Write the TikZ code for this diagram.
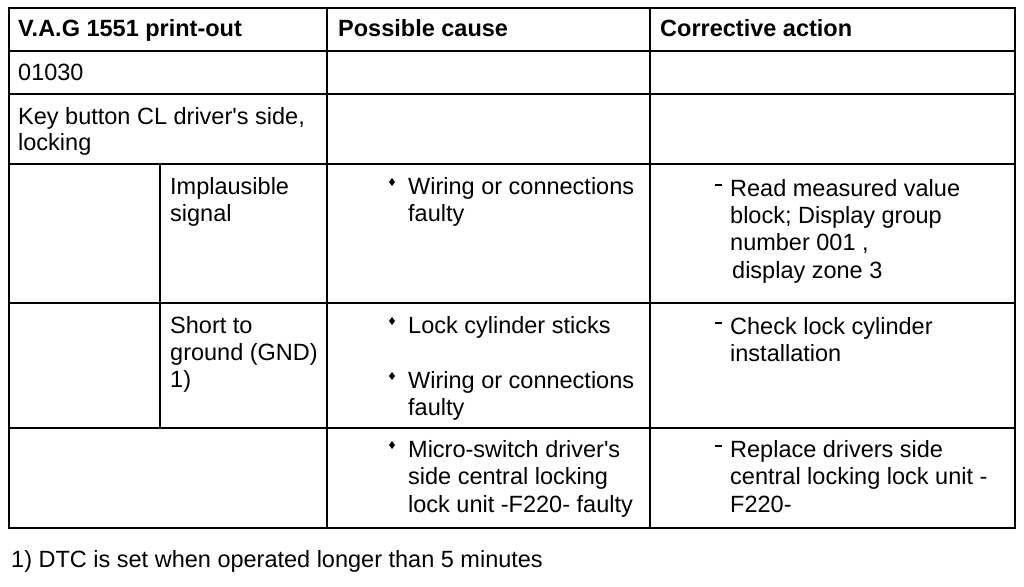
\documentclass[tikz,border=0pt]{standalone}
\usepackage{fontspec}
\setmainfont{Liberation Sans}[Ligatures=TeXOff]
\begin{document}
\begin{tikzpicture}[x=1pt,y=-1pt,
  grid/.style={line width=2.2pt,black},
  txt/.style={anchor=base west,inner sep=0pt,font=\fontsize{23.5}{28}\selectfont},
  hdr/.style={txt,font=\fontsize{23.5}{28}\selectfont\bfseries},
  bul/.style={fill=black},
  dsh/.style={line width=1.5pt}]
\useasboundingbox (0,0) rectangle (1024,586);
% grid
\draw[grid] (9,8) rectangle (1015,528);
\foreach \y in {51,94,164,303,428} \draw[grid] (9,\y) -- (1015,\y);
\draw[grid] (327,8) -- (327,528);
\draw[grid] (650,8) -- (650,528);
\draw[grid] (160,164) -- (160,428);
% header
\node[hdr] (h1) at (18,37) {V.A.G 1551 print-out};
\node[hdr] (h2) at (338,37) {Possible cause};
\node[hdr] (h3) at (660,37) {Corrective action};
% rows
\node[txt] (r1) at (18,81) {01030};
\node[txt] (r2a) at (18,124) {Key button CL driver's side,};
\node[txt] (r2b) at (18,150) {locking};
% implausible
\node[txt] (i1) at (170,194) {Implausible};
\node[txt] (i2) at (170,221) {signal};
\node[txt] (ic1) at (408,194) {Wiring or connections};
\node[txt] (ic2) at (408,221) {faulty};
\node[txt] (ia1) at (730,196) {Read measured value};
\node[txt] (ia2) at (730,223) {block; Display group};
\node[txt] (ia3) at (730,250) {number 001 ,};
\node[txt] (ia4) at (732,278) {display zone 3};
% short
\node[txt] (s1) at (170,333) {Short to};
\node[txt] (s2) at (170,360) {ground (GND)};
\node[txt] (s3) at (170,387) {1)};
\node[txt] (sc1) at (408,333) {Lock cylinder sticks};
\node[txt] (sc2) at (408,388) {Wiring or connections};
\node[txt] (sc3) at (408,415) {faulty};
\node[txt] (sa1) at (730,334) {Check lock cylinder};
\node[txt] (sa2) at (730,361) {installation};
% micro
\node[txt] (m1) at (408,457) {Micro-switch driver's};
\node[txt] (m2) at (408,484) {side central locking};
\node[txt] (m3) at (408,512) {lock unit -F220- faulty};
\node[txt] (ma1) at (730,457) {Replace drivers side};
\node[txt] (ma2) at (730,484) {central locking lock unit -};
\node[txt] (ma3) at (730,512) {F220-};
% footnote
\node[txt] (fn) at (11,567) {1) DTC is set when operated longer than 5 minutes};
% bullets
\foreach \n in {ic1,sc1,sc2,m1}
  \fill[bul] ([xshift=-16pt,yshift=12pt]\n.base west) ++(-3,0) -- ++(3,-4) -- ++(3,4) -- ++(-3,4) -- cycle;
% dashes
\foreach \n in {ia1,sa1,ma1}
  \draw[dsh] ([xshift=-15pt,yshift=11pt]\n.base west) -- ++(7,0);
\end{tikzpicture}
\end{document}
